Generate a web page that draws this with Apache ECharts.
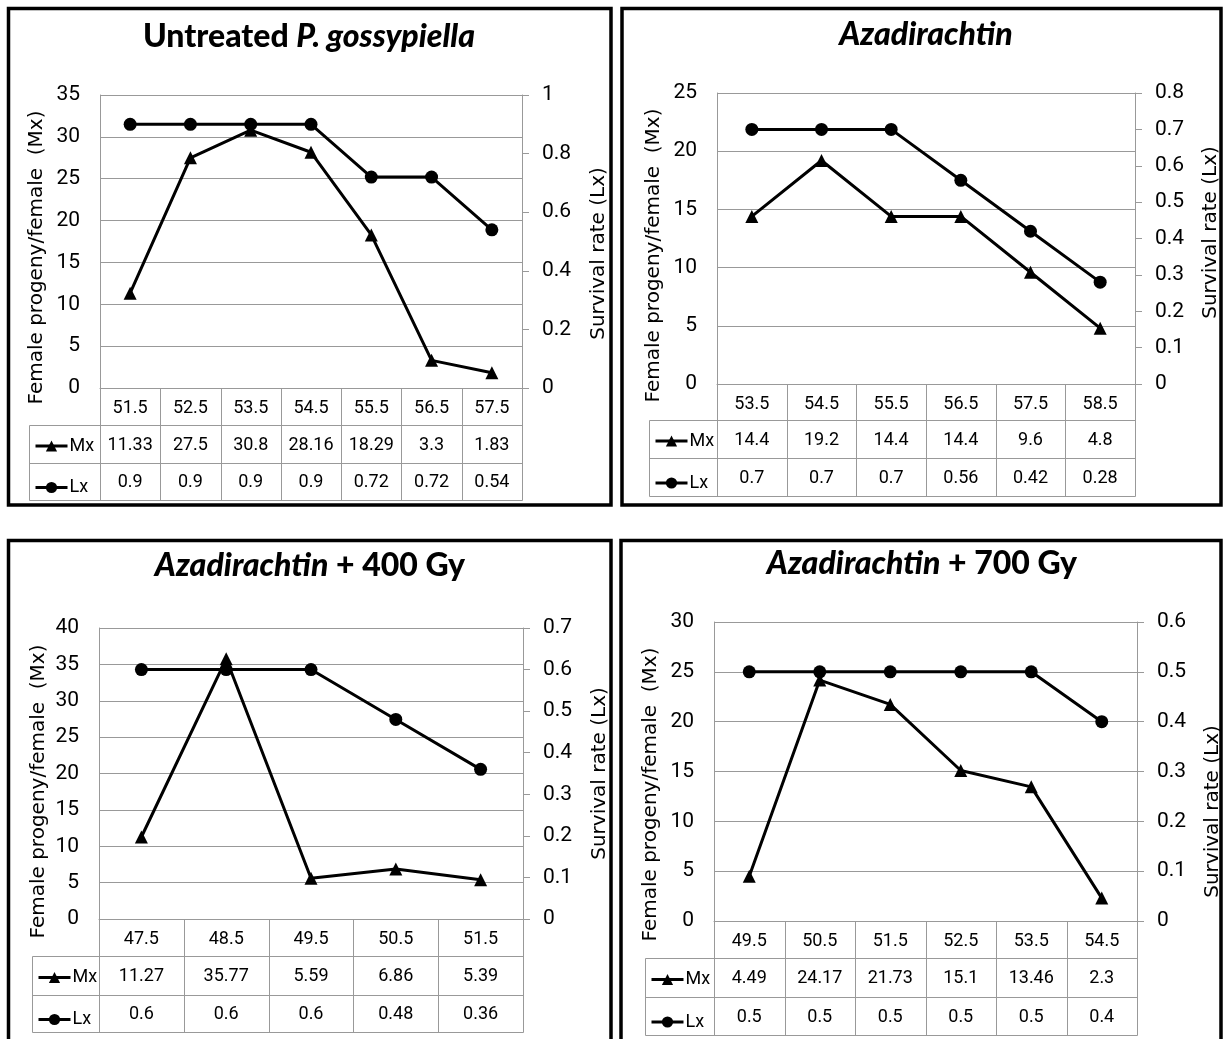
<!DOCTYPE html>
<html>
<head>
<meta charset="utf-8">
<script src="https://cdn.jsdelivr.net/npm/echarts@6/dist/echarts.min.js"></script>
<style>
html,body{margin:0;padding:0;background:#fff;}
#c{width:1224px;height:1039px;}
</style>
</head>
<body>
<div id="c"></div>
<script>
// ---------------- data ----------------
const catA = ['51.5','52.5','53.5','54.5','55.5','56.5','57.5'];
const mxA  = [11.33, 27.5, 30.8, 28.16, 18.29, 3.3, 1.83];
const lxA  = [0.9, 0.9, 0.9, 0.9, 0.72, 0.72, 0.54];

const catB = ['53.5','54.5','55.5','56.5','57.5','58.5'];
const mxB  = [14.4, 19.2, 14.4, 14.4, 9.6, 4.8];
const lxB  = [0.7, 0.7, 0.7, 0.56, 0.42, 0.28];

const catC = ['47.5','48.5','49.5','50.5','51.5'];
const mxC  = [11.27, 35.77, 5.59, 6.86, 5.39];
const lxC  = [0.6, 0.6, 0.6, 0.48, 0.36];

const catD = ['49.5','50.5','51.5','52.5','53.5','54.5'];
const mxD  = [4.49, 24.17, 21.73, 15.1, 13.46, 2.3];
const lxD  = [0.5, 0.5, 0.5, 0.5, 0.5, 0.4];

const mxAxisMax  = [35, 25, 40, 30];
const mxAxisStep = [5, 5, 5, 5];
const lxAxisMax  = [1, 0.8, 0.7, 0.6];
const lxAxisStep = [0.2, 0.1, 0.1, 0.1];

const titles = [
  '{b|Untreated }{i|P. gossypiella}',
  '{i|Azadirachtin}',
  '{i|Azadirachtin}{b| + 400 Gy}',
  '{i|Azadirachtin}{b| + 700 Gy}'
];
const leftAxisName  = 'Female progeny/female  (Mx)';
const rightAxisName = 'Survival rate (Lx)';
const seriesNames = ['Mx', 'Lx'];

const cats = [catA, catB, catC, catD];
const mxs  = [mxA, mxB, mxC, mxD];
const lxs  = [lxA, lxB, lxC, lxD];

// ---------------- layout (pixels) ----------------
const NUMF = "Roboto,'Liberation Sans',sans-serif";
const TITLEF = "Lato,'Liberation Sans',sans-serif";
const WIDE = "'DejaVu Sans',Verdana,sans-serif";
const GRAY = '#999';

const P = [
  {box:[8.5, 8.5, 611, 505],    left:100, right:522,  top:95,  bottom:388, rows:[425,463,500],  tab:29,  tx:309, ty:37,  lnShift:16, rnShift:12, lGap:53, rGap:67},
  {box:[622, 8.5, 1221, 505],   left:717, right:1135, top:93,  bottom:384, rows:[420,458,496],  tab:649, tx:926, ty:35,  lnShift:17, rnShift:-6, lGap:53, rGap:66},
  {box:[8.5, 540.5, 611, 1080], left:99,  right:523,  top:628, bottom:919, rows:[956,995,1032], tab:32,  tx:310, ty:566, lnShift:18, rnShift:0,  lGap:50, rGap:67},
  {box:[621, 540.5, 1221, 1080],left:714, right:1137, top:622, bottom:921, rows:[958,997,1035], tab:645, tx:922, ty:564, lnShift:23, rnShift:40, lGap:53, rGap:66}
];

const chart = echarts.init(document.getElementById('c'), null, {renderer:'canvas'});

const grid = [], xAxis = [], yAxis = [], series = [], title = [], legend = [], graphic = [];
const px = v => Math.round(v) + 0.5;

P.forEach((p, k) => {
  grid.push({left:p.left, top:p.top, width:p.right - p.left, height:p.bottom - p.top, containLabel:false, outerBoundsMode:'none'});

  xAxis.push({
    gridIndex:k, type:'category', data:cats[k], boundaryGap:true,
    axisLine:{show:true, lineStyle:{color:GRAY, width:1}},
    axisTick:{show:false},
    splitLine:{show:false},
    axisLabel:{interval:0, margin:20, verticalAlign:'middle', fontSize:18, fontFamily:NUMF, color:'#000'}
  });

  const padL = p.lnShift >= 0 ? [0, 2*p.lnShift, 0, 0] : [0, 0, 0, -2*p.lnShift];
  const padR = p.rnShift >= 0 ? [0, 2*p.rnShift, 0, 0] : [0, 0, 0, -2*p.rnShift];

  yAxis.push({
    gridIndex:k, type:'value', position:'left', min:0, max:mxAxisMax[k], interval:mxAxisStep[k],
    axisLine:{show:true, lineStyle:{color:GRAY, width:1}},
    axisTick:{show:false},
    splitLine:{show:true, lineStyle:{color:GRAY, width:1}},
    axisLabel:{margin:20, fontSize:21, fontFamily:NUMF, color:'#000'},
    name:leftAxisName, nameLocation:'middle', nameGap:p.lGap,
    nameTextStyle:{fontFamily:WIDE, fontSize:20, color:'#000', padding:padL}
  });
  yAxis.push({
    gridIndex:k, type:'value', position:'right', min:0, max:lxAxisMax[k], interval:lxAxisStep[k],
    axisLine:{show:true, lineStyle:{color:GRAY, width:1}},
    axisTick:{show:true, inside:false, length:7, lineStyle:{color:GRAY, width:1}},
    splitLine:{show:false},
    axisLabel:{margin:20, fontSize:21, fontFamily:NUMF, color:'#000'},
    name:rightAxisName, nameLocation:'middle', nameGap:p.rGap,
    nameTextStyle:{fontFamily:WIDE, fontSize:20, color:'#000', padding:padR}
  });

  series.push({
    type:'line', name:seriesNames[0], xAxisIndex:k, yAxisIndex:2*k, data:mxs[k],
    symbol:'triangle', symbolSize:13, showAllSymbol:true,
    lineStyle:{color:'#000', width:3}, itemStyle:{color:'#000'}, z:3, animation:false
  });
  series.push({
    type:'line', name:seriesNames[1], xAxisIndex:k, yAxisIndex:2*k+1, data:lxs[k],
    symbol:'circle', symbolSize:13, showAllSymbol:true,
    lineStyle:{color:'#000', width:3}, itemStyle:{color:'#000'}, z:3, animation:false
  });

  title.push({
    text:titles[k], left:p.tx, top:p.ty - 21, textAlign:'center', textVerticalAlign:'top', padding:0,
    textStyle:{rich:{
      b:{fontFamily:TITLEF, fontWeight:900, fontSize:32, lineHeight:42, color:'#000'},
      i:{fontFamily:TITLEF, fontWeight:900, fontStyle:'italic', fontSize:32, lineHeight:42, color:'#000'}
    }}
  });

  const r0 = p.bottom, r1 = p.rows[0], r2 = p.rows[1], r3 = p.rows[2];
  const itemH = 14;
  legend.push({
    data:seriesNames, orient:'vertical', left:p.tab + 5, top:(r1 + r2)/2 - itemH/2,
    itemWidth:32, itemHeight:itemH, itemGap:(r3 - r1)/2 - itemH, padding:0,
    lineStyle:{width:3, color:'#000'},
    selectedMode:false, textStyle:{fontFamily:NUMF, fontSize:18, color:'#000', padding:[0,0,0,-3]}
  });

  // table lines
  const n = cats[k].length, w = (p.right - p.left) / n;
  const ln = (x1, y1, x2, y2) => graphic.push({type:'line', silent:true, z:1,
    shape:{x1:x1, y1:y1, x2:x2, y2:y2}, style:{stroke:GRAY, lineWidth:1}});
  for (let i = 0; i <= n; i++) {
    const x = px(p.left + i * w);
    ln(x, r0, x, px(r3));
  }
  ln(px(p.tab), px(r1), px(p.tab), px(r3));
  [r1, r2, r3].forEach(y => ln(px(p.tab), px(y), px(p.right), px(y)));

  // table values
  const cell = (txt, x, y) => graphic.push({type:'text', silent:true, z:2, x:x, y:y,
    style:{text:txt, align:'center', verticalAlign:'middle', fontFamily:NUMF, fontSize:18, fill:'#000'}});
  for (let i = 0; i < n; i++) {
    const cx = p.left + (i + 0.5) * w;
    cell(String(mxs[k][i]), cx, (r1 + r2)/2 + 1);
    cell(String(lxs[k][i]), cx, (r2 + r3)/2 + 1);
  }

  // panel border
  graphic.push({type:'rect', silent:true, z:5,
    shape:{x:p.box[0], y:p.box[1], width:p.box[2]-p.box[0], height:p.box[3]-p.box[1]},
    style:{fill:'none', stroke:'#000', lineWidth:3.5}});
});

chart.setOption({
  backgroundColor:'#fff',
  animation:false,
  title:title, legend:legend, grid:grid, xAxis:xAxis, yAxis:yAxis, series:series, graphic:graphic
});
</script>
</body>
</html>
